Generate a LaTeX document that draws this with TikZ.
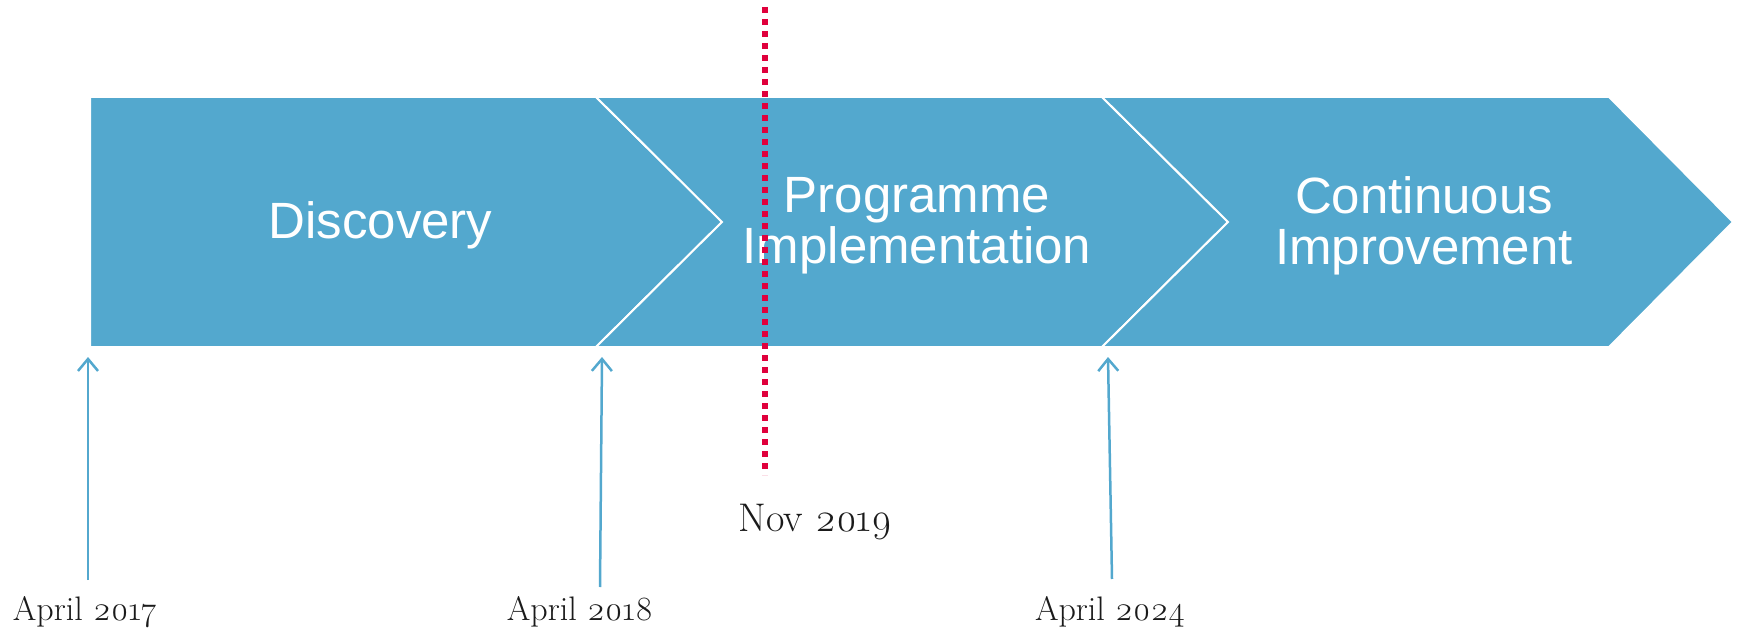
\documentclass[tikz,border=0pt]{standalone}
\usepackage{fontspec}
\setmainfont{Latin Modern Roman}[Numbers=OldStyle]
\newfontfamily\chevfont{Liberation Sans}
\usetikzlibrary{arrows.meta}
\definecolor{band}{HTML}{53A8CE}
\definecolor{mark}{HTML}{E0003C}
\definecolor{labeltext}{HTML}{1A1A1A}
\tikzset{
  phase/.style={fill=band, draw=white, line width=2pt, line join=miter},
  phasetext/.style={text=white, font=\chevfont\fontsize{51}{51}\selectfont, align=center, inner sep=0pt},
  datelabel/.style={text=labeltext, font=\fontsize{34}{38}\selectfont, inner sep=0pt, anchor=base},
  bigdate/.style={text=labeltext, font=\fontsize{40}{44}\selectfont, inner sep=0pt, anchor=base},
  milestone/.style={draw=band, line width=2.5pt, -{Straight Barb[length=12pt,width=20pt,line width=2.5pt]}},
  cutoff/.style={draw=mark, line width=6pt, dash pattern=on 6pt off 6pt}
}
\begin{document}
\begin{tikzpicture}[x=1pt,y=-1pt]
\useasboundingbox (0,0) rectangle (1738,631);
% phases
\draw[phase] (90,97) -- (596,97) -- (722,222) -- (596,347) -- (90,347) -- cycle;
\draw[phase] (596,97) -- (1102,97) -- (1228,222) -- (1102,347) -- (596,347) -- (722,222) -- cycle;
\draw[phase] (1102,97) -- (1609,97) -- (1733,222) -- (1609,347) -- (1102,347) -- (1228,222) -- cycle;
% phase titles
\node[phasetext, anchor=base] (disc) at (380.5,239) {Discovery};
\node[phasetext] (prog) at (917,226) {Programme\\Implementation};
\node[phasetext] (cont) at (1424,226) {Continuous\\Improvement};
% cut-off line
\coordinate (cuttop) at (765,7);
\coordinate (cutbot) at (765,475);
\draw[cutoff] (cuttop) -- (cutbot);
% labels
\node[datelabel] (d17) at (85,620) {April 2017};
\node[datelabel] (d18) at (580,620) {April 2018};
\node[datelabel] (d24) at (1110,620) {April 2024};
\node[bigdate] (n19) at (815.5,531) {Nov 2019};
% milestone arrows
\coordinate (a17s) at (88,580);
\coordinate (a17t) at (88,357);
\coordinate (a18s) at (600,587);
\coordinate (a18t) at (602,357);
\coordinate (a24s) at (1112,579);
\coordinate (a24t) at (1108,357);
\draw[milestone] (a17s) -- (a17t);
\draw[milestone] (a18s) -- (a18t);
\draw[milestone] (a24s) -- (a24t);
\end{tikzpicture}
\end{document}
